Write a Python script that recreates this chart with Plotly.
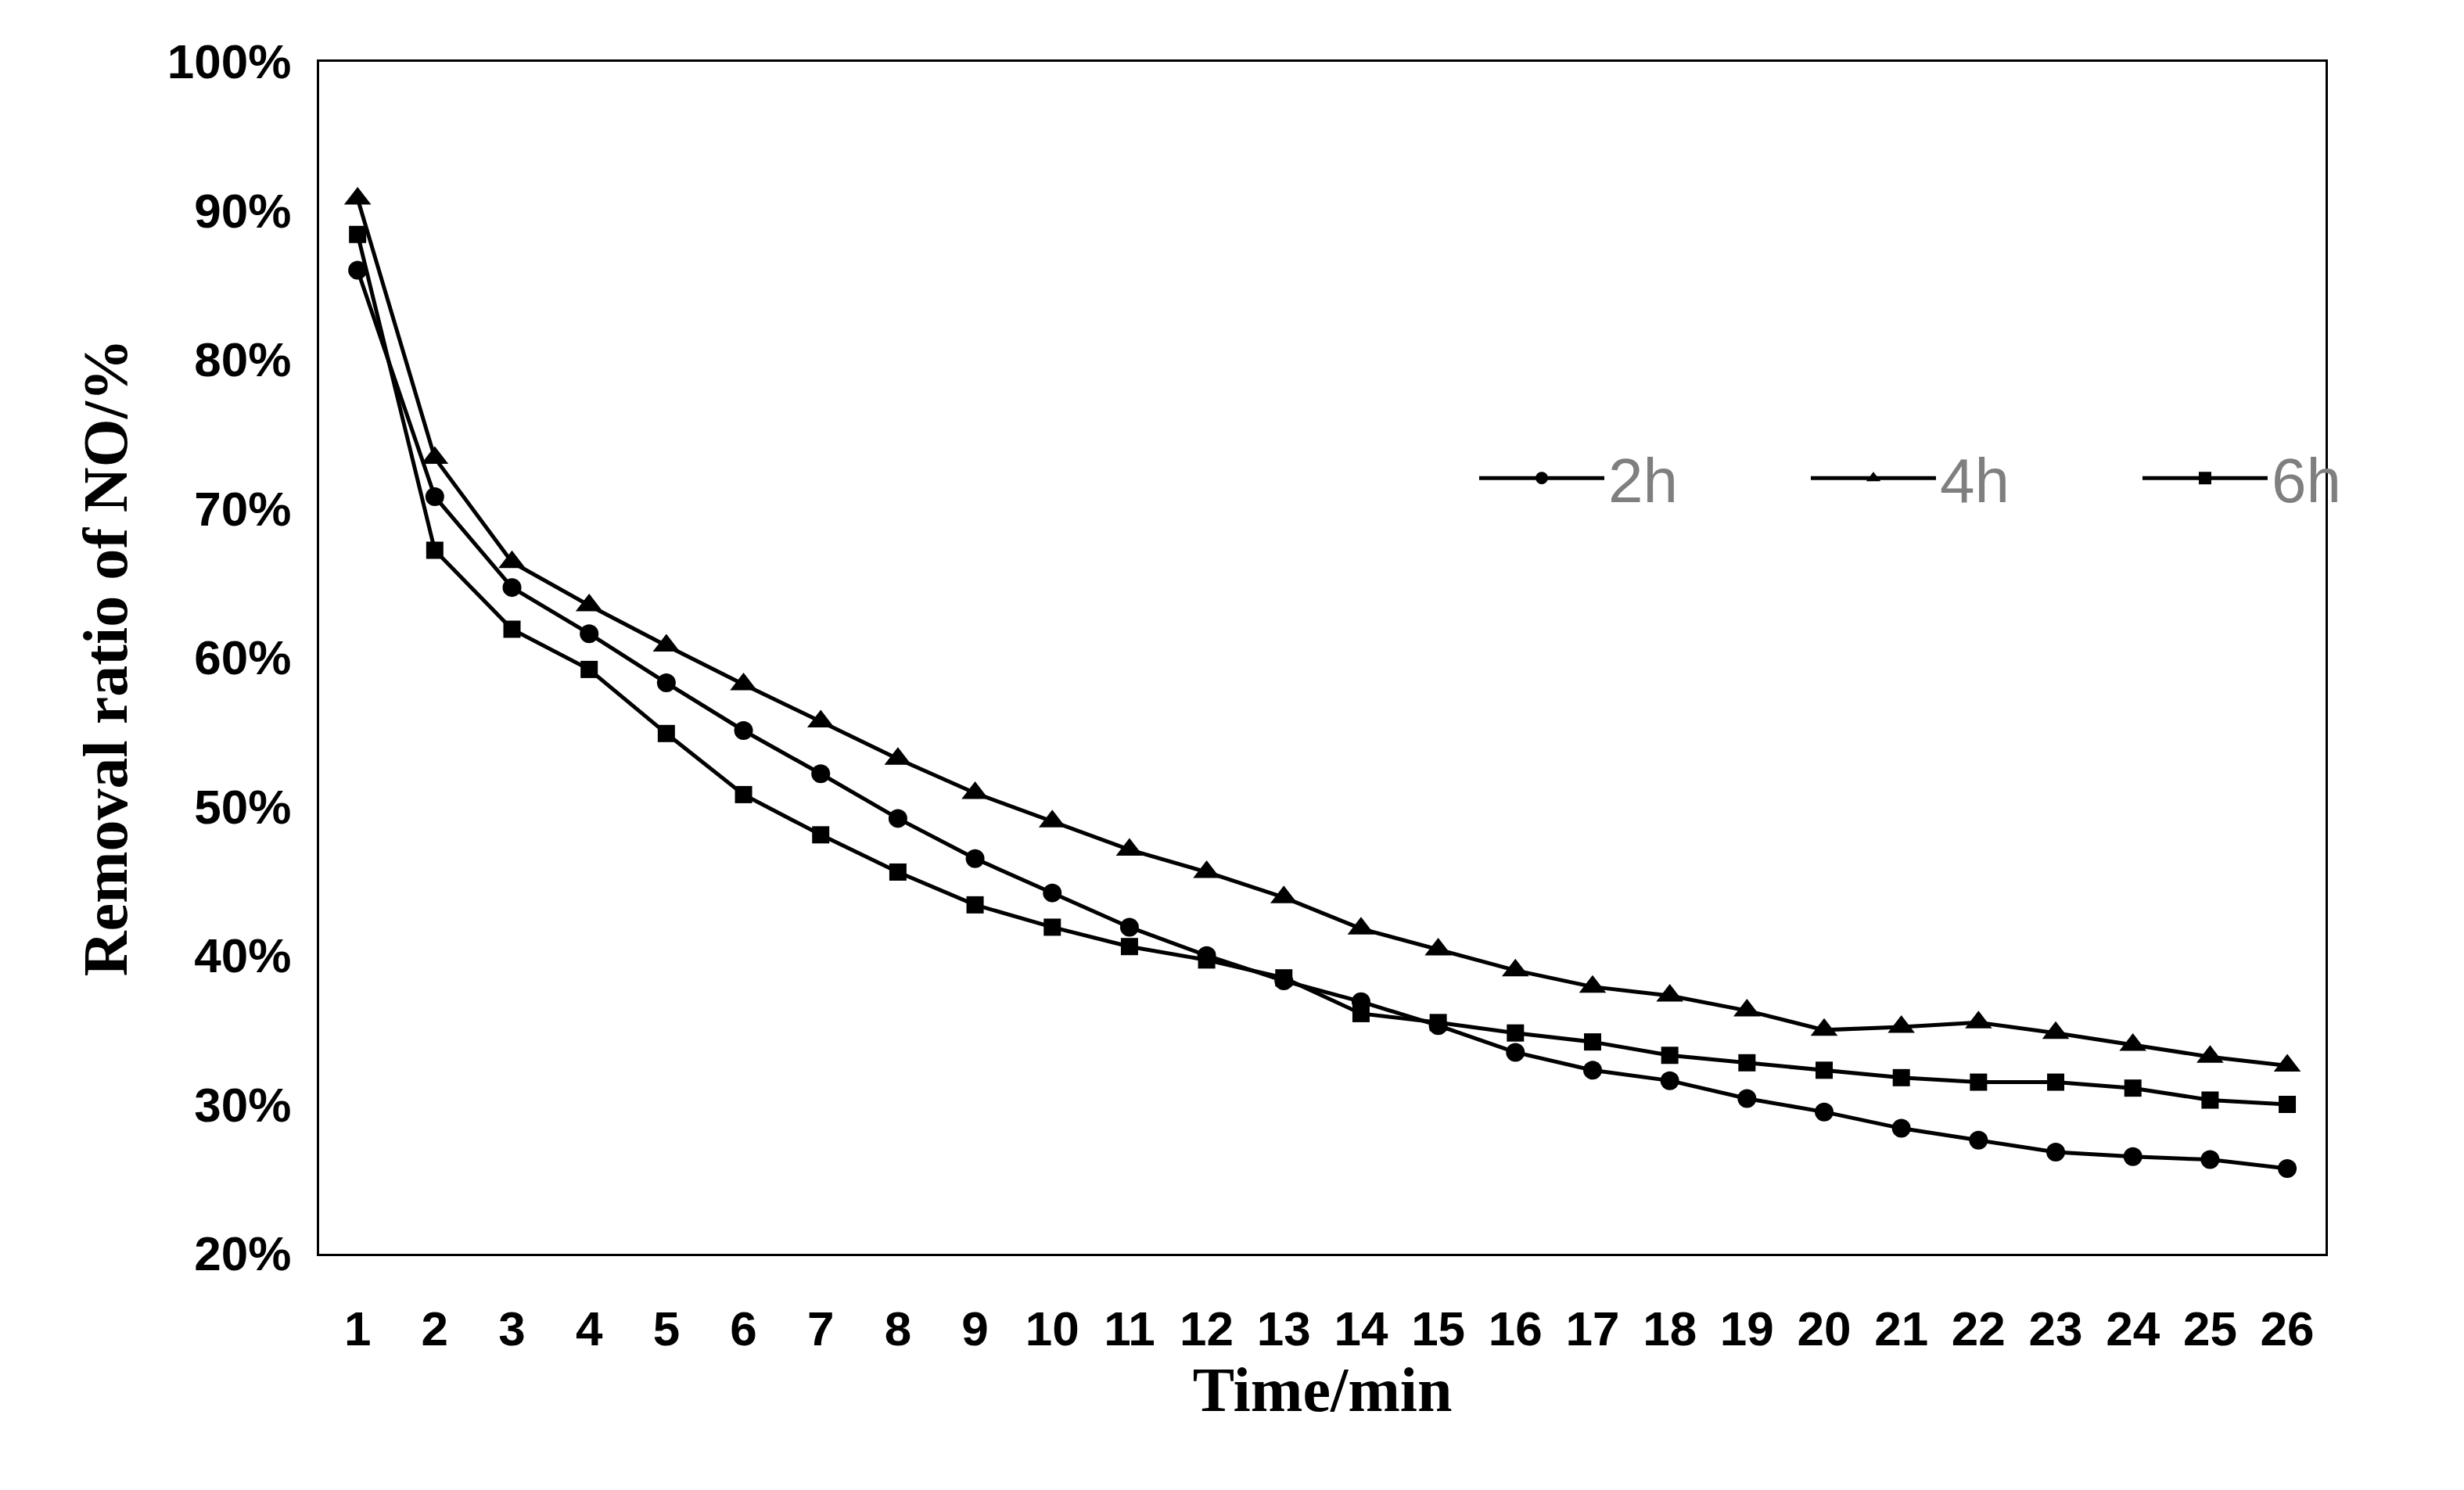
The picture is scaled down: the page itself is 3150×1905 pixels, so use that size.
import plotly.graph_objects as go

time_min = list(range(1, 27))
ratio_2h = [86.0, 70.8, 64.7, 61.6, 58.3, 55.1, 52.2, 49.2, 46.5, 44.2, 41.9, 40.0, 38.3,
            36.9, 35.3, 33.5, 32.3, 31.6, 30.4, 29.5, 28.4, 27.6, 26.8, 26.5, 26.3, 25.7]
ratio_4h = [90.8, 73.4, 66.4, 63.5, 60.8, 58.2, 55.7, 53.2, 50.9, 49.0, 47.1, 45.6, 43.9,
            41.8, 40.4, 39.0, 37.9, 37.3, 36.3, 35.0, 35.2, 35.5, 34.8, 34.0, 33.2, 32.6]
ratio_6h = [88.4, 67.2, 61.9, 59.2, 54.9, 50.8, 48.1, 45.6, 43.4, 41.9, 40.6, 39.7, 38.5,
            36.1, 35.5, 34.8, 34.2, 33.3, 32.8, 32.3, 31.8, 31.5, 31.5, 31.1, 30.3, 30.0]

series = [("2h", ratio_2h, "circle", 24), ("4h", ratio_4h, "triangle-up", 30),
          ("6h", ratio_6h, "square", 22)]

fig = go.Figure()
for name, vals, sym, msize in series:
    fig.add_trace(go.Scatter(
        x=time_min, y=vals, mode="lines+markers", name=name + "\u2003\u2003",
        line=dict(color="black", width=5),
        marker=dict(symbol=sym, size=msize, color="black")
    ))

tick_font = dict(family="Liberation Sans", size=62, color="black", weight="bold")
title_font = dict(family="Liberation Serif", size=80, color="black", weight="bold")

fig.update_layout(
    width=3150, height=1905,
    paper_bgcolor="white", plot_bgcolor="white",
    margin=dict(l=0, r=0, t=0, b=0),
    showlegend=True,
    legend=dict(orientation="h", x=0.62, y=0.69, xanchor="left", yanchor="middle",
                font=dict(family="Liberation Sans", size=80, color="#7f7f7f"),
                bgcolor="rgba(0,0,0,0)", itemwidth=160),
    xaxis=dict(domain=[0.132, 0.979], range=[0.5, 26.5], tickvals=time_min,
               showline=True, linecolor="black", linewidth=3, mirror=True,
               showgrid=False, zeroline=False, ticks="", tickfont=tick_font,
               ticklabelstandoff=40,
               title=dict(text="Time/min", font=title_font, standoff=15)),
    yaxis=dict(domain=[0.15, 0.98], range=[20, 100], dtick=10, ticksuffix="%",
               showline=True, linecolor="black", linewidth=3, mirror=True,
               showgrid=False, zeroline=False, ticks="", tickfont=tick_font,
               ticklabelstandoff=20,
               title=dict(text="Removal ratio of NO/%", font=title_font, standoff=25)),
)

fig.write_html("out.html")
